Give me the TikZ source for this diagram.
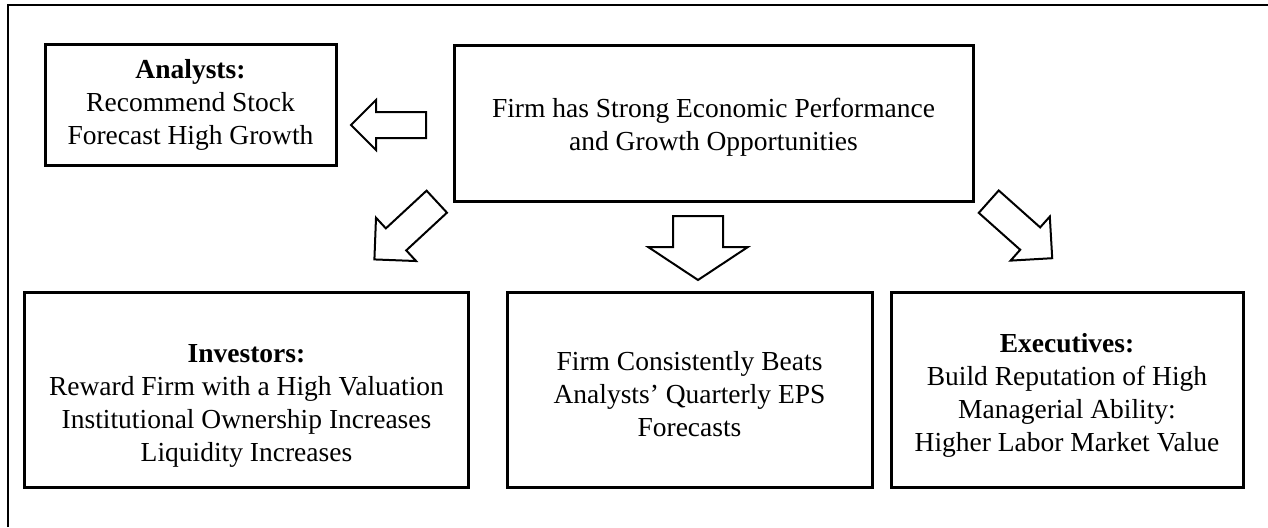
\documentclass[tikz,border=0pt]{standalone}
\usepackage{fontspec}
\setmainfont{Liberation Serif}
\usetikzlibrary{shapes.arrows}

\begin{document}
\begin{tikzpicture}
	[
		x = 1pt, y = -1pt,
		box/.style = {shape=rectangle, draw, line width=3pt, anchor=center},
		lowbox/.style = {box, minimum height=195pt},
		boxtext/.style = {align=center, inner sep=0pt, font=\fontsize{27.5}{33}\selectfont},
		blockarrow/.style = {shape=single arrow, draw, line width=2pt, anchor=tail, inner xsep=0pt},
		sidearrow/.style = {blockarrow, inner ysep=12pt, minimum width=48pt, minimum height=75pt, single arrow head extend=12pt, single arrow tip angle=90},
		downarrow/.style = {blockarrow, inner ysep=24pt, minimum width=97pt, minimum height=64pt, single arrow head extend=24.5pt, single arrow tip angle=113},
		slantarrow/.style = {blockarrow, inner ysep=14pt, minimum width=57pt, minimum height=85pt, single arrow head extend=14.5pt, single arrow tip angle=90}
	]
	
	\useasboundingbox (0,0) rectangle (1268,527);
	
	\draw [line width=1.5pt] (8,527) -- (8,5) -- (1268,5);
	
	\node [box, minimum width=291pt, minimum height=120pt] (analysts) at (190.5,105) {};
	\node [box, minimum width=519pt, minimum height=155pt] (firm) at (713.5,123.5) {};
	\node [lowbox, minimum width=444pt] (investors) at (246.5,389.5) {};
	\node [lowbox, minimum width=365pt] (beats) at (689.5,389.5) {};
	\node [lowbox, minimum width=352pt] (executives) at (1067,389.5) {};
	
	\node [boxtext] (analyststext) at (analysts.center)
		{\textbf{Analysts:}\\Recommend Stock\\Forecast High Growth};
	\node [boxtext, yshift=-4pt] (firmtext) at (firm.center)
		{Firm has Strong Economic Performance\\and Growth Opportunities};
	\node [boxtext, yshift=-16pt] (investorstext) at (investors.center)
		{\textbf{Investors:}\\Reward Firm with a High Valuation\\Institutional Ownership Increases\\Liquidity Increases};
	\node [boxtext, yshift=-5pt] (beatstext) at (beats.center)
		{Firm Consistently Beats\\Analysts’ Quarterly EPS\\Forecasts};
	\node [boxtext, yshift=-6pt] (executivestext) at (executives.center)
		{\textbf{Executives:}\\Build Reputation of High\\Managerial Ability:\\Higher Labor Market Value};
	
	\node [sidearrow, rotate=180] (toanalysts) at (427,125) {};
	\node [downarrow, rotate=-90] (tobeats) at (698,215) {};
	\node [slantarrow, rotate=222.8] (toinvestors) at (437.5,201) {};
	\node [slantarrow, rotate=-41.7] (toexecutives) at (988,201) {};
	
\end{tikzpicture}
\end{document}
